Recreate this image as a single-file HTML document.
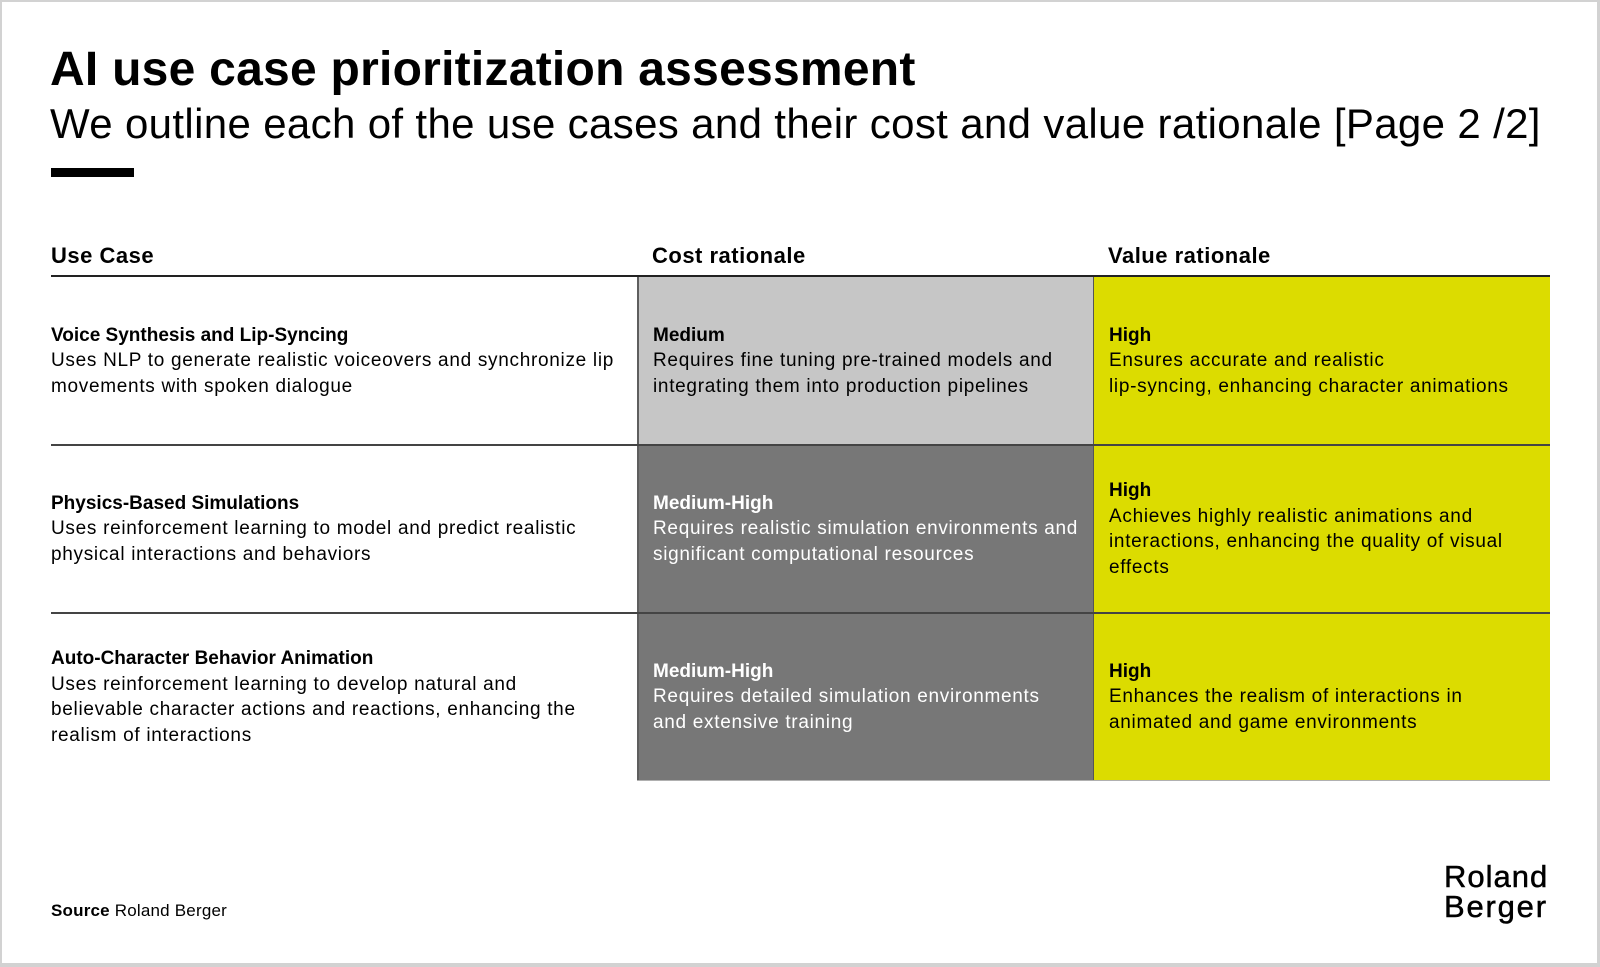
<!DOCTYPE html>
<html>
<head>
<meta charset="utf-8">
<style>
  html, body { margin:0; padding:0; }
  body { width:1600px; height:967px; position:relative; overflow:hidden; background:#fff;
         font-family:"Liberation Sans", Arial, sans-serif; color:#000; }
  .frame { position:absolute; left:0; top:0; width:1600px; height:967px; box-sizing:border-box;
           border-style:solid; border-color:#d2d2d2; border-width:2px 3px 4px 2px; pointer-events:none; z-index:10; }
  .abs { position:absolute; white-space:nowrap; }
  .title { left:50px; top:46px; font-size:48px; line-height:48px; font-weight:bold; letter-spacing:0.25px; }
  .sub { left:50px; top:103px; font-size:42px; line-height:42px; font-weight:normal; letter-spacing:0.35px; }
  .bar { position:absolute; left:51px; top:168px; width:83px; height:9px; background:#000; }
  .hdr { top:245px; font-size:22px; line-height:21px; font-weight:bold; letter-spacing:0.5px; }
  .hline { position:absolute; left:51px; top:275px; width:1499px; height:2px; background:#222; }
  .cell { position:absolute; box-sizing:border-box; display:flex; align-items:center;
          font-size:19px; line-height:25.5px; letter-spacing:0.7px; white-space:nowrap; }
  .cell b { letter-spacing:0; }
  .uc { left:51px; width:586px; padding-left:0; }
  .cost { left:637px; width:456px; padding-left:14px; border-left:2px solid #5e5e5e; }
  .val { left:1093px; width:457px; padding-left:15px; background:#dcdc00; border-left:1px solid #555; }
  .lg { background:#c6c6c6; }
  .dg { background:#777777; color:#fff; }
  .r1 { top:277px; height:168px; }
  .r2 { top:445px; height:168px; }
  .r3 { top:613px; height:168px; }
  .sep { position:absolute; left:51px; width:1499px; height:1.5px; background:#444; z-index:2; }
  .bot { position:absolute; left:637px; top:780px; width:913px; height:1px; background:#b0b0b0; }
  .src { left:51px; top:902px; font-size:17px; line-height:17px; letter-spacing:0.2px; }
  .logo { left:1444px; top:862px; font-size:31px; line-height:30px; text-align:left; -webkit-text-stroke:0.5px #000; }
  .logo span { display:block; }
</style>
</head>
<body>
<div class="frame"></div>

<div class="abs title">AI use case prioritization assessment</div>
<div class="abs sub">We outline each of the use cases and their cost and value rationale [Page 2 /2]</div>
<div class="bar"></div>

<div class="abs hdr" style="left:51px;">Use Case</div>
<div class="abs hdr" style="left:652px;">Cost rationale</div>
<div class="abs hdr" style="left:1108px;">Value rationale</div>
<div class="hline"></div>

<!-- Row 1 -->
<div class="cell uc r1"><div><b>Voice Synthesis and Lip-Syncing</b><br>Uses NLP to generate realistic voiceovers and synchronize lip<br>movements with spoken dialogue</div></div>
<div class="cell cost lg r1"><div><b>Medium</b><br>Requires fine tuning pre-trained models and<br>integrating them into production pipelines</div></div>
<div class="cell val r1"><div><b>High</b><br>Ensures accurate and realistic<br>lip-syncing, enhancing character animations</div></div>

<!-- Row 2 -->
<div class="cell uc r2"><div><b>Physics-Based Simulations</b><br>Uses reinforcement learning to model and predict realistic<br>physical interactions and behaviors</div></div>
<div class="cell cost dg r2"><div><b>Medium-High</b><br>Requires realistic simulation environments and<br>significant computational resources</div></div>
<div class="cell val r2"><div><b>High</b><br>Achieves highly realistic animations and<br>interactions, enhancing the quality of visual<br>effects</div></div>

<!-- Row 3 -->
<div class="cell uc r3"><div><b>Auto-Character Behavior Animation</b><br>Uses reinforcement learning to develop natural and<br>believable character actions and reactions, enhancing the<br>realism of interactions</div></div>
<div class="cell cost dg r3"><div><b>Medium-High</b><br>Requires detailed simulation environments<br>and extensive training</div></div>
<div class="cell val r3"><div><b>High</b><br>Enhances the realism of interactions in<br>animated and game environments</div></div>

<div class="sep" style="top:444px;"></div>
<div class="sep" style="top:612px;"></div>
<div class="bot"></div>

<div class="abs src"><b>Source</b> Roland Berger</div>
<div class="abs logo"><span style="letter-spacing:1px;">Roland</span><span style="letter-spacing:1.8px;">Berger</span></div>
</body>
</html>
